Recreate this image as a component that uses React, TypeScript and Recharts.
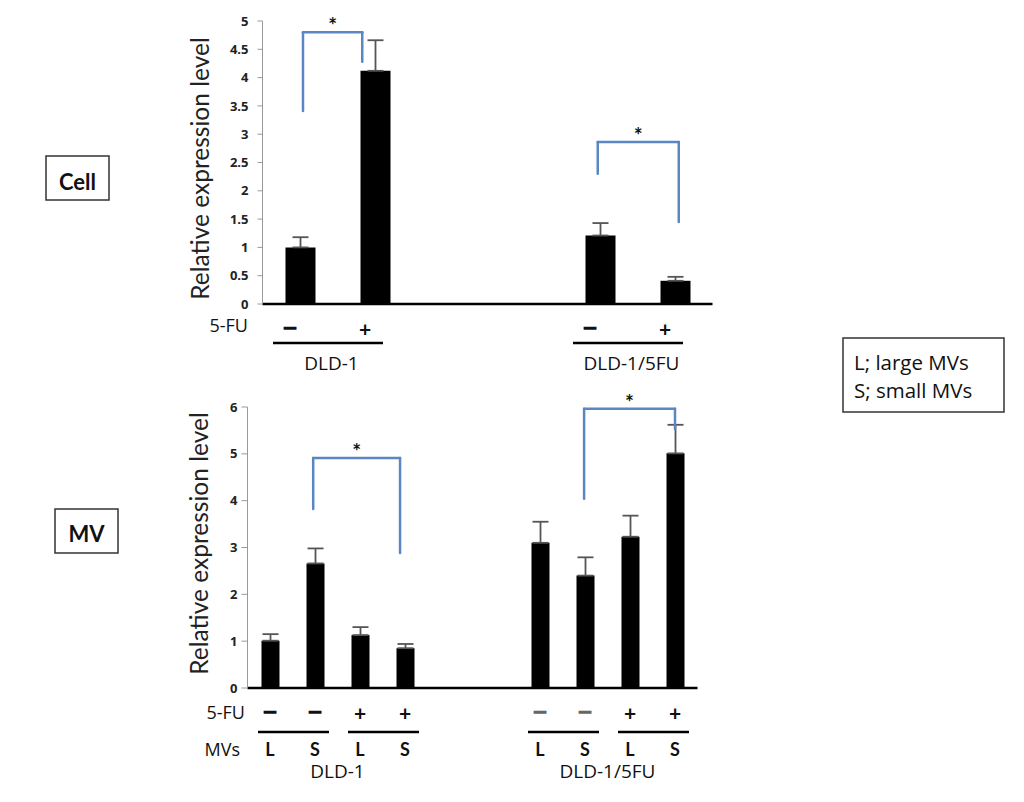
import React from 'react';
import { BarChart, Bar, XAxis, YAxis, ErrorBar, ReferenceLine } from 'recharts';

const FONT = 'Lato, "Open Sans", sans-serif';
const FONT2 = '"Open Sans", Lato, sans-serif';
const BLUE = '#5a86c4';

// ---------- Cell (top) ----------
const cellCategories = ['DLD-1 −', 'DLD-1 +', 'gap-a', 'gap-b', 'DLD-1/5FU −', 'DLD-1/5FU +'];
const cellValues = [1.0, 4.12, null, null, 1.21, 0.41];
const cellErrors = [0.18, 0.54, null, null, 0.22, 0.07];
const cellFuSigns = ['—', '+', '', '', '—', '+'];
const cellGroups = [
  { label: 'DLD-1', first: 0, last: 1 },
  { label: 'DLD-1/5FU', first: 4, last: 5 },
];
const cellTicks = [0, 0.5, 1, 1.5, 2, 2.5, 3, 3.5, 4, 4.5, 5];
const cellBrackets = [
  { x1: 0.04, x2: 0.83, yTop: 4.8, yLeft: 3.41, yRight: 4.28 },
  { x1: 3.97, x2: 5.05, yTop: 2.86, yLeft: 2.3, yRight: 1.45 },
];

// ---------- MV (bottom) ----------
const mvCategories = ['1L-', '1S-', '1L+', '1S+', 'gap-a', 'gap-b', '2L-', '2S-', '2L+', '2S+'];
const mvValues = [1.01, 2.66, 1.13, 0.85, null, null, 3.1, 2.4, 3.23, 5.01];
const mvErrors = [0.14, 0.32, 0.17, 0.09, null, null, 0.45, 0.39, 0.45, 0.61];
const mvFuSigns = ['—', '—', '+', '+', '', '', '—', '—', '+', '+'];
const mvSizes = ['L', 'S', 'L', 'S', '', '', 'L', 'S', 'L', 'S'];
const mvFuGroups = [
  { first: 0, last: 1 },
  { first: 2, last: 3 },
  { first: 6, last: 7 },
  { first: 8, last: 9 },
];
const mvGroups = [
  { label: 'DLD-1', first: 0, last: 3 },
  { label: 'DLD-1/5FU', first: 6, last: 9 },
];
const mvTicks = [0, 1, 2, 3, 4, 5, 6];
const mvBrackets = [
  { x1: 0.96, x2: 2.89, yTop: 4.91, yLeft: 3.82, yRight: 2.88 },
  { x1: 6.98, x2: 9.0, yTop: 5.96, yLeft: 4.04, yRight: 5.53 },
];

const cellData = cellCategories.map((name, i) => ({
  name,
  value: cellValues[i],
  err: cellErrors[i] == null ? null : [0, cellErrors[i]],
}));
const mvData = mvCategories.map((name, i) => ({
  name,
  value: mvValues[i],
  err: mvErrors[i] == null ? null : [0, mvErrors[i]],
}));

const CELL_PLOT_W = 450;
const MV_PLOT_W = 450;
const CELL_BAND = CELL_PLOT_W / cellCategories.length;
const MV_BAND = MV_PLOT_W / mvCategories.length;

const signProps = (sign: string) =>
  sign === '—'
    ? { fontSize: 17, fontWeight: 'bold' as const, stroke: '#111', strokeWidth: 1.3 }
    : { fontSize: 21, fontWeight: 'bold' as const };

const CellTick = (props: any) => {
  const { x, y, index } = props;
  const sign = cellFuSigns[index];
  const g = cellGroups.find((gr) => gr.first === index);
  return (
    <g fontFamily={FONT}>
      {index === 0 && (
        <text x={x - 52} y={y + 28} textAnchor="end" fontSize={18} fill="#111" fontFamily={FONT2}>
          5-FU
        </text>
      )}
      {sign && (
        <text
          x={x - 10}
          y={sign === '—' ? y + 29 : y + 33}
          textAnchor="middle"
          fill="#111"
          {...signProps(sign)}
        >
          {sign}
        </text>
      )}
      {g && (
        <g>
          <line
            x1={x - 27}
            x2={x + (g.last - g.first) * CELL_BAND + 8}
            y1={y + 39}
            y2={y + 39}
            stroke="#000"
            strokeWidth={2.5}
          />
          <text
            x={x + ((g.last - g.first) * CELL_BAND) / 2 - 6}
            y={y + 66}
            textAnchor="middle"
            fontSize={19}
            fill="#111"
            fontFamily={FONT2}
          >
            {g.label}
          </text>
        </g>
      )}
    </g>
  );
};

const MvTick = (props: any) => {
  const { x, y, index } = props;
  const sign = mvFuSigns[index];
  const size = mvSizes[index];
  const fg = mvFuGroups.find((gr) => gr.first === index);
  const g = mvGroups.find((gr) => gr.first === index);
  const signColor = index >= 6 && sign === '—' ? '#666' : '#111';
  return (
    <g fontFamily={FONT}>
      {index === 0 && (
        <g fontFamily={FONT2}>
          <text x={x - 25} y={y + 31} textAnchor="end" fontSize={18} fill="#111">
            5-FU
          </text>
          <text x={x - 30} y={y + 68} textAnchor="end" fontSize={18} fill="#111">
            MVs
          </text>
        </g>
      )}
      {sign && (
        <text
          x={x}
          y={sign === '—' ? y + 29 : y + 33}
          textAnchor="middle"
          fill={signColor}
          {...signProps(sign)}
          stroke={sign === '—' ? signColor : undefined}
        >
          {sign}
        </text>
      )}
      {size && (
        <text x={x} y={y + 68} textAnchor="middle" fontSize={18} fontWeight="bold" fill="#111">
          {size}
        </text>
      )}
      {fg && (
        <line
          x1={x - 12}
          x2={x + (fg.last - fg.first) * MV_BAND + 14}
          y1={y + 44}
          y2={y + 44}
          stroke="#000"
          strokeWidth={2.5}
        />
      )}
      {g && (
        <text
          x={x + ((g.last - g.first) * MV_BAND) / 2}
          y={y + 90}
          textAnchor="middle"
          fontSize={19}
          fill="#111"
          fontFamily={FONT2}
        >
          {g.label}
        </text>
      )}
    </g>
  );
};

const renderBracket = (b: any, key: string) => [
  <ReferenceLine
    key={key + 'l'}
    xAxisId="num"
    segment={[
      { x: b.x1, y: b.yLeft },
      { x: b.x1, y: b.yTop },
    ]}
    stroke={BLUE}
    strokeWidth={2.5}
    strokeLinecap="round"
    ifOverflow="visible"
  />,
  <ReferenceLine
    key={key + 't'}
    xAxisId="num"
    segment={[
      { x: b.x1, y: b.yTop },
      { x: b.x2, y: b.yTop },
    ]}
    stroke={BLUE}
    strokeWidth={2.5}
    strokeLinecap="round"
    ifOverflow="visible"
    label={{ value: '*', position: 'top', offset: -1, fontSize: 21, fontWeight: 'bold', fill: '#111', fontFamily: FONT }}
  />,
  <ReferenceLine
    key={key + 'r'}
    xAxisId="num"
    segment={[
      { x: b.x2, y: b.yTop },
      { x: b.x2, y: b.yRight },
    ]}
    stroke={BLUE}
    strokeWidth={2.5}
    strokeLinecap="round"
    ifOverflow="visible"
  />,
];

const yTickStyle = { fontSize: 13, fontWeight: 'bold', fill: '#222', fontFamily: FONT2 };

export default function App() {
  return (
    <div
      style={{
        position: 'absolute',
        left: 0,
        top: 0,
        width: 1024,
        height: 802,
        background: '#fff',
        fontFamily: FONT,
        overflow: 'hidden',
      }}
    >
      <svg width={1024} height={802} style={{ position: 'absolute', left: 0, top: 0 }}>
        <rect x={46} y={156} width={63} height={44} fill="#fff" stroke="#333" strokeWidth={1.5} />
        <text x={77.5} y={190} textAnchor="middle" fontSize={22} fontWeight="bold" fontFamily={FONT} fill="#111">
          Cell
        </text>
        <rect x={55} y={509} width={63} height={44} fill="#fff" stroke="#333" strokeWidth={1.5} />
        <text x={86.5} y={542} textAnchor="middle" fontSize={22} fontWeight="bold" fontFamily={FONT} fill="#111">
          MV
        </text>
        <rect x={843} y={338} width={161} height={74} fill="#fff" stroke="#333" strokeWidth={1.5} />
        <text x={854} y={370} fontSize={20.5} fontFamily={FONT2} fill="#111">
          L; large MVs
        </text>
        <text x={854} y={398} fontSize={20.5} fontFamily={FONT2} fill="#111">
          S; small MVs
        </text>
      </svg>

      <div style={{ position: 'absolute', left: 0, top: 0 }}>
        <BarChart
          width={740}
          height={390}
          data={cellData}
          margin={{ top: 21, right: 27.5, left: 0, bottom: 0 }}
          style={{ overflow: 'visible' }}
        >
          <XAxis
            xAxisId="cat"
            dataKey="name"
            type="category"
            height={86}
            interval={0}
            tickLine={false}
            tickSize={0}
            tickMargin={0}
            axisLine={{ stroke: '#000', strokeWidth: 2.5 }}
            tick={(p: any) => <CellTick {...p} />}
          />
          <XAxis
            xAxisId="num"
            type="number"
            domain={[0, cellCategories.length - 1]}
            padding={{ left: CELL_BAND / 2, right: CELL_BAND / 2 }}
            allowDataOverflow
            hide
          />
          <YAxis
            width={262.5}
            domain={[0, 5]}
            ticks={cellTicks}
            interval={0}
            allowDataOverflow
            axisLine={{ stroke: '#999' }}
            tickLine={{ stroke: '#999' }}
            tickSize={5}
            tickMargin={9}
            tick={yTickStyle}
            label={{
              value: 'Relative expression level',
              angle: -90,
              position: 'center',
              dx: 69,
              dy: 6,
              fontSize: 24.5,
              fill: '#222',
              fontFamily: FONT,
            }}
          />
          <Bar xAxisId="cat" dataKey="value" fill="#000" barSize={30} isAnimationActive={false}>
            <ErrorBar dataKey="err" width={8} stroke="#555" strokeWidth={1.8} direction="y" isAnimationActive={false} />
          </Bar>
          {cellBrackets.map((b, i) => renderBracket(b, 'c' + i))}
        </BarChart>
      </div>

      <div style={{ position: 'absolute', left: 0, top: 390 }}>
        <BarChart
          width={740}
          height={410}
          data={mvData}
          margin={{ top: 17, right: 42.5, left: 0, bottom: 0 }}
          style={{ overflow: 'visible' }}
        >
          <XAxis
            xAxisId="cat"
            dataKey="name"
            type="category"
            height={112}
            interval={0}
            tickLine={false}
            tickSize={0}
            tickMargin={0}
            axisLine={{ stroke: '#000', strokeWidth: 2.5 }}
            tick={(p: any) => <MvTick {...p} />}
          />
          <XAxis
            xAxisId="num"
            type="number"
            domain={[0, mvCategories.length - 1]}
            padding={{ left: MV_BAND / 2, right: MV_BAND / 2 }}
            allowDataOverflow
            hide
          />
          <YAxis
            width={247.5}
            domain={[0, 6]}
            ticks={mvTicks}
            interval={0}
            allowDataOverflow
            axisLine={{ stroke: '#999' }}
            tickLine={{ stroke: '#999' }}
            tickSize={6}
            tickMargin={4}
            tick={yTickStyle}
            label={{
              value: 'Relative expression level',
              angle: -90,
              position: 'center',
              dx: 76,
              dy: -4,
              fontSize: 24.5,
              fill: '#222',
              fontFamily: FONT,
            }}
          />
          <Bar xAxisId="cat" dataKey="value" fill="#000" barSize={18} isAnimationActive={false}>
            <ErrorBar dataKey="err" width={8} stroke="#555" strokeWidth={1.8} direction="y" isAnimationActive={false} />
          </Bar>
          {mvBrackets.map((b, i) => renderBracket(b, 'm' + i))}
        </BarChart>
      </div>
    </div>
  );
}
